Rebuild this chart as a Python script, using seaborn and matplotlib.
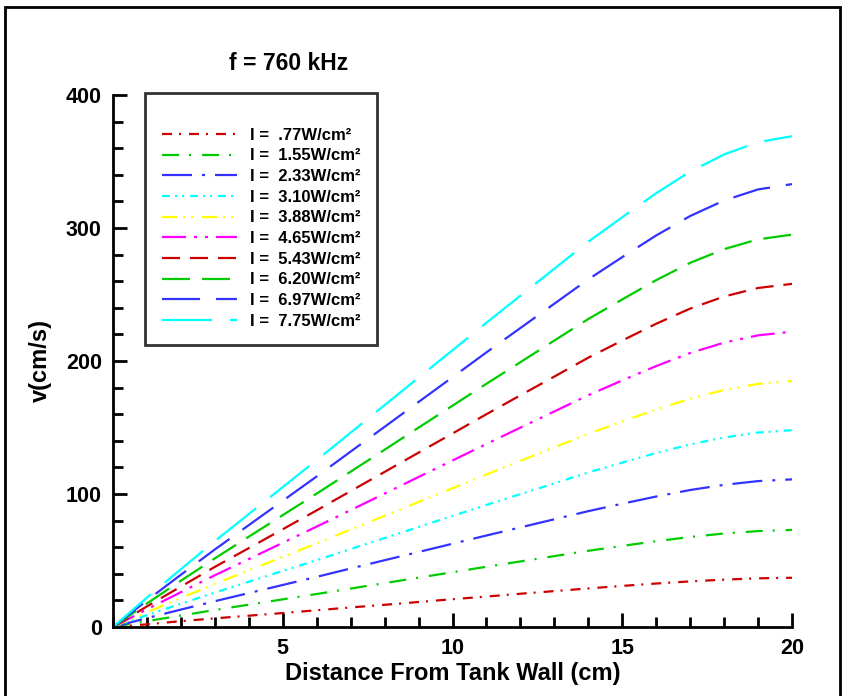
import matplotlib
matplotlib.use('Agg')
import matplotlib.pyplot as plt
import seaborn as sns
import pandas as pd
from matplotlib.patches import Rectangle
from matplotlib.ticker import MultipleLocator

# dados
distancia = list(range(0, 21))
intensidades = ['.77', '1.55', '2.33', '3.10', '3.88', '4.65', '5.43', '6.20', '6.97', '7.75']
v077 = [0, 2, 4.4, 6.5, 8.5, 10.5, 12.6, 14.7, 16.7, 18.8, 20.9, 22.9, 25, 27, 29, 30.9, 32.7, 34.3, 35.6, 36.6, 37]
v155 = [0, 4.4, 8.6, 12.8, 16.8, 20.8, 24.8, 28.9, 33, 37.1, 41.2, 45.3, 49.3, 53.3, 57.3, 61, 64.5, 67.7, 70.3, 72.1, 73]
v233 = [0, 6.7, 13.1, 19.4, 25.5, 31.6, 37.7, 44, 50.2, 56.4, 62.6, 68.8, 74.9, 81, 87.1, 92.7, 98.1, 103, 106.9, 109.7, 111]
v310 = [0, 8.9, 17.5, 25.9, 34, 42.2, 50.3, 58.6, 66.9, 75.2, 83.5, 91.8, 99.9, 108, 116.2, 123.6, 130.8, 137.3, 142.5, 146.2, 148]
v388 = [0, 11.1, 21.8, 32.4, 42.6, 52.7, 62.9, 73.3, 83.6, 94, 104.3, 114.7, 124.9, 135.1, 145.2, 154.5, 163.5, 171.7, 178.2, 182.8, 185]
v465 = [0, 13.3, 26.2, 38.9, 51.1, 63.3, 75.5, 87.9, 100.3, 112.8, 125.2, 137.6, 149.9, 162.1, 174.3, 185.4, 196.2, 206, 213.8, 219.3, 222]
v543 = [0, 15.5, 30.4, 45.2, 59.3, 73.5, 87.7, 102.2, 116.6, 131.1, 145.5, 160, 174.2, 188.3, 202.5, 215.4, 228, 239.4, 248.5, 254.9, 258]
v620 = [0, 17.7, 34.8, 51.6, 67.9, 84.1, 100.3, 116.8, 133.3, 149.9, 166.4, 182.9, 199.1, 215.4, 231.6, 246.3, 260.8, 273.8, 284.1, 291.5, 295]
v697 = [0, 20, 39.3, 58.3, 76.6, 94.9, 113.2, 131.9, 150.5, 169.2, 187.8, 206.5, 224.8, 243.1, 261.4, 278.1, 294.4, 309, 320.7, 329, 333]
v775 = [0, 22.1, 43.5, 64.6, 84.9, 105.2, 125.5, 146.1, 166.8, 187.5, 208.1, 228.8, 249.1, 269.4, 289.7, 308.1, 326.2, 342.4, 355.3, 364.6, 369]
series = [v077, v155, v233, v310, v388, v465, v543, v620, v697, v775]

cores = ['#CC0000', '#00CC00', '#3333FF', '#00FFFF', '#FFFF00',
         '#FF00FF', '#CC0000', '#00CC00', '#3333FF', '#00FFFF']
# padroes de traco em pixels (convertidos para pontos abaixo)
tracos_px = [(10, 7, 2, 8), (17, 10, 2, 11), (30, 10, 3, 10), (8, 5, 2, 5, 2, 6),
             (15, 6, 2, 6, 2, 9), (24, 8, 3, 8, 3, 8), (18, 10), (28, 12), (38, 16), (50, 18)]

sns.set_style('white')
plt.rcParams['lines.scale_dashes'] = False
plt.rcParams['font.family'] = ['Liberation Sans', 'DejaVu Sans']
plt.rcParams['font.weight'] = 'bold'
plt.rcParams['text.color'] = 'black'
plt.rcParams['axes.labelcolor'] = 'black'
plt.rcParams['xtick.color'] = 'black'
plt.rcParams['ytick.color'] = 'black'

fig = plt.figure(figsize=(8.43, 6.96), dpi=100)
ax = fig.add_axes([113 / 843, 69 / 696, 679 / 843, 532 / 696])

for vals, inten, cor, tr in zip(series, intensidades, cores, tracos_px):
    df = pd.DataFrame({'x': distancia, 'v': vals})
    sns.lineplot(data=df, x='x', y='v', color=cor, lw=1.6, ax=ax,
                 label='I =  ' + inten + 'W/cm²')
    ax.lines[-1].set_dashes([t * 0.72 for t in tr])

ax.set_xlim(0, 20)
ax.set_ylim(0, 400)
ax.set_xticks([5, 10, 15, 20])
ax.set_yticks([0, 100, 200, 300, 400])
ax.xaxis.set_minor_locator(MultipleLocator(1))
ax.yaxis.set_minor_locator(MultipleLocator(20))
ax.tick_params(which='major', direction='in', length=10, width=2, labelsize=15.5,
               bottom=True, left=True, pad=8)
ax.tick_params(which='minor', direction='in', length=7, width=2, bottom=True, left=True)
for lab in ax.get_xticklabels() + ax.get_yticklabels():
    lab.set_fontweight('bold')

sns.despine(ax=ax)
for s in ['left', 'bottom']:
    ax.spines[s].set_linewidth(2)
    ax.spines[s].set_color('black')

ax.set_xlabel('Distance From Tank Wall (cm)', fontsize=17, fontweight='bold', labelpad=2)
ax.set_ylabel('v(cm/s)', fontsize=17, fontweight='bold', labelpad=10)

leg = ax.legend(loc='upper left', bbox_to_anchor=(32 / 679, 1.003), fontsize=12,
                handlelength=4.5, handletextpad=0.8, labelspacing=0.34,
                borderpad=1.0, borderaxespad=0, title=' ', title_fontsize=9,
                fancybox=False, frameon=True)
leg.get_frame().set_edgecolor('black')
leg.get_frame().set_linewidth(2)
for t in leg.get_texts():
    t.set_fontweight('bold')

fig.text(289 / 843, 1 - 64 / 696, 'f = 760 kHz', ha='center', va='center',
         fontsize=16.5, fontweight='bold')

fig.patches.append(Rectangle((5 / 843, -0.02), 835 / 843, 1 - 7 / 696 + 0.02,
                             transform=fig.transFigure, fill=False,
                             edgecolor='black', linewidth=2))

fig.savefig('out.png', dpi=100)
